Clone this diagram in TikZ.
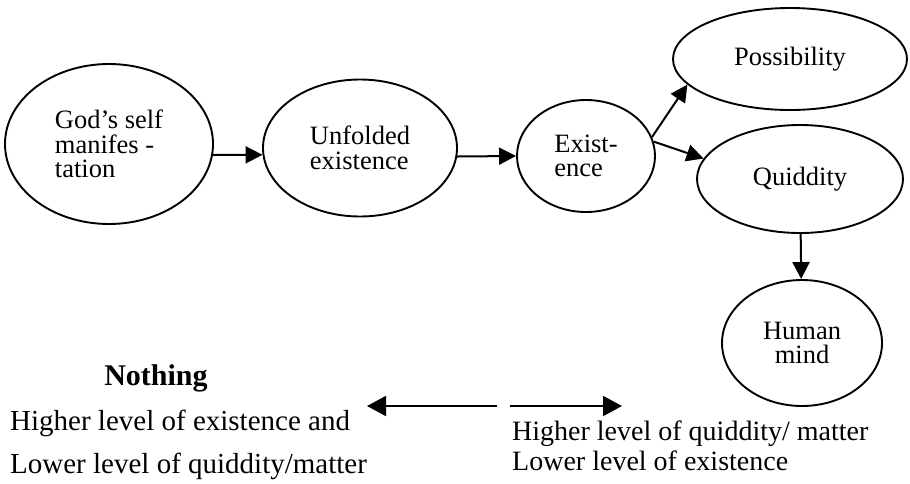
\documentclass[tikz,border=0pt]{standalone}
\usepackage{fontspec}
\setmainfont{Liberation Serif}
\usepackage{tikz}
\usetikzlibrary{shapes.geometric}
\usetikzlibrary{arrows.meta}

\begin{document}
\begin{tikzpicture}[x=1pt, y=-1pt,
	bubble/.style={ellipse, draw, line width=1.9pt, inner sep=0pt, align=left, font=\fontsize{26.5}{24.5}\selectfont},
	note/.style={inner sep=0pt, anchor=base west, font=\fontsize{29}{29}\selectfont},
	tip/.style={-{Triangle[length=17pt, width=17pt]}, line width=2pt}]
\useasboundingbox (0,0) rectangle (910,483);
% the chain of ellipses
\node[bubble, minimum width=208pt, minimum height=160pt] (god) at (109,144) {God's self\\manifes -\\tation};
\node[bubble, minimum width=194pt, minimum height=137pt] (unfold) at (360,148) {Unfolded\\existence};
\node[bubble, minimum width=138pt, minimum height=112pt] (exist) at (586,156) {Exist-\\ence};
\node[bubble, minimum width=234pt, minimum height=102pt] (poss) at (790,59) {Possibility};
\node[bubble, minimum width=206pt, minimum height=108pt] (quid) at (800,179) {Quiddity};
\node[bubble, minimum width=160pt, minimum height=126pt, align=center] (mind) at (802,343) {Human\\mind};
\path[tip]
(god.-6) edge (unfold.184)
(unfold.-5) edge (exist.west)
(exist.16) edge (poss.194)
(exist.12) edge (quid.168)
(quid) edge (mind);
% the two ends
\node[inner sep=0pt, anchor=base, font=\fontsize{30}{30}\selectfont\bfseries] (nothing) at (156,385) {Nothing};
\node[note] (highexist) at (10,430) {Higher level of existence and};
\node[note] (lowquid) at (10,473) {Lower level of quiddity/matter};
\node[note, font=\fontsize{28}{28}\selectfont] (highquid) at (512,440) {Higher level of quiddity/ matter};
\node[note, font=\fontsize{28}{28}\selectfont] (lowexist) at (512,470) {Lower level of existence};
\coordinate (lfrom) at (497,406);
\coordinate (lto) at (367,406);
\coordinate (rfrom) at (510,406);
\coordinate (rto) at (622,406);
\path[-{Triangle[length=19pt, width=20pt]}, line width=2pt]
(lfrom) edge (lto)
(rfrom) edge (rto);
\end{tikzpicture}
\end{document}
